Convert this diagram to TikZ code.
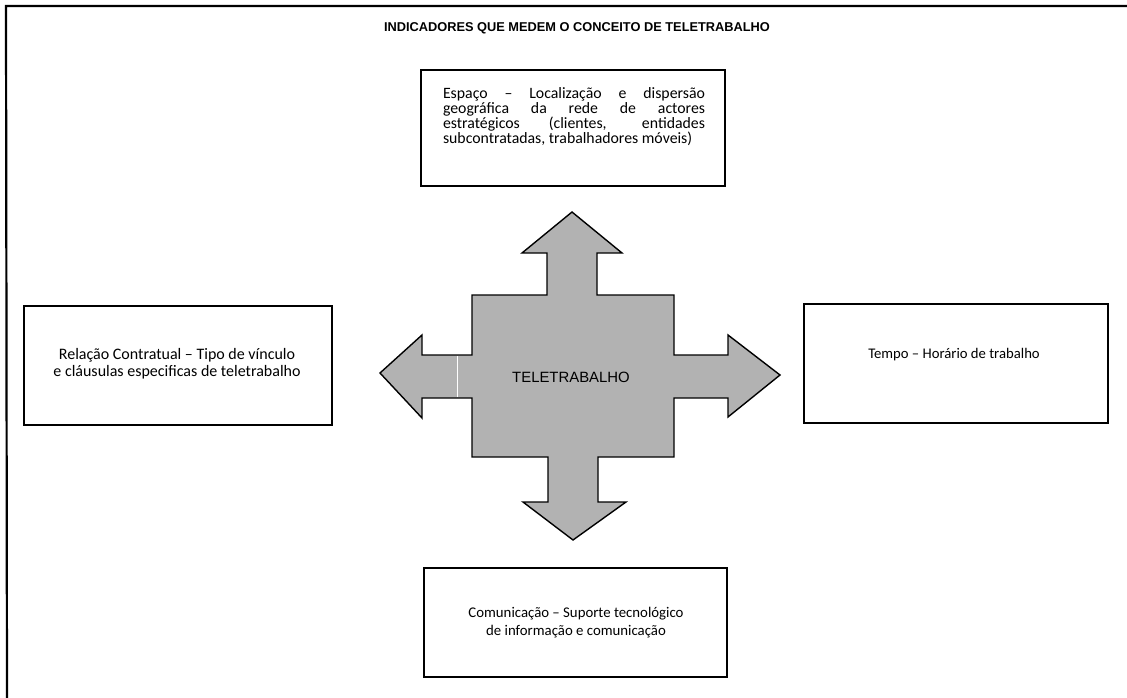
\documentclass[tikz,border=0pt]{standalone}
\usepackage{fontspec}
\setmainfont{Carlito}
\newfontfamily\arialfont{Liberation Sans}
\begin{document}
\begin{tikzpicture}[x=1pt,y=-1pt,
  box/.style={draw=black,line width=1.4pt,fill=white,inner sep=0pt},
  txt/.style={inner sep=0pt,align=center},
  frame/.style={line width=2.2pt,draw=black}]
\useasboundingbox (0,0) rectangle (1127,698);
% frame (top and left only)
\coordinate (f1) at (6,6);
\coordinate (f2) at (1127,6);
\coordinate (f3) at (7,698);
\draw[frame] (f2) -- (f1) -- (f3);
% title
\node[inner sep=0pt,font=\arialfont\bfseries\fontsize{12.8}{14}\selectfont] (title) at (577,28) {INDICADORES QUE MEDEM O CONCEITO DE TELETRABALHO};
% boxes
\node[box,minimum width=304pt,minimum height=116pt] (espaco) at (573,128) {};
\node[box,minimum width=308pt,minimum height=119pt] (relacao) at (178,365.5) {};
\node[box,minimum width=304pt,minimum height=119pt] (tempo) at (956,363.5) {};
\node[box,minimum width=303pt,minimum height=109pt] (comunic) at (575.5,622.5) {};
% texts
\node[inner sep=0pt,text width=262pt,align=justify,font=\fontsize{15.8}{15}\selectfont,anchor=north] (espacotxt) at (574,87)
 {Espaço -- Localização e dispersão\linebreak geográfica da rede de actores\linebreak estratégicos (clientes, entidades\linebreak subcontratadas, trabalhadores móveis)};
\node[txt,font=\fontsize{16}{17}\selectfont] (relacaotxt) at (177,363.5) {Relação Contratual -- Tipo de vínculo\\e cláusulas especificas de teletrabalho};
\node[txt,font=\fontsize{14.7}{18}\selectfont] (tempotxt) at (954,355) {Tempo -- Horário de trabalho};
\node[txt,font=\fontsize{14.8}{18.4}\selectfont] (comunictxt) at (576,622.5) {Comunicação -- Suporte tecnológico\\de informação e comunicação};
% central cross
\draw[line width=1.4pt,fill=black!30] (572,212) -- (622,253) -- (597,253) -- (597,295) -- (674,295) -- (674,355)
  -- (728,355) -- (728,335) -- (780,375) -- (728,417) -- (728,398) -- (674,398)
  -- (674,457) -- (598,457) -- (598,502) -- (626,502) -- (573,540) -- (523,502) -- (548,502) -- (548,457)
  -- (472,457) -- (472,398) -- (422,398) -- (422,418) -- (380,373) -- (422,335) -- (422,355) -- (472,355)
  -- (472,295) -- (547,295) -- (547,253) -- (522,253) -- cycle;
\draw[white,line width=1.5pt] (457.5,356) -- (457.5,397);
\node[inner sep=0pt,font=\arialfont\fontsize{14.9}{16}\selectfont] (tele) at (571,377) {TELETRABALHO};
\end{tikzpicture}
\end{document}
